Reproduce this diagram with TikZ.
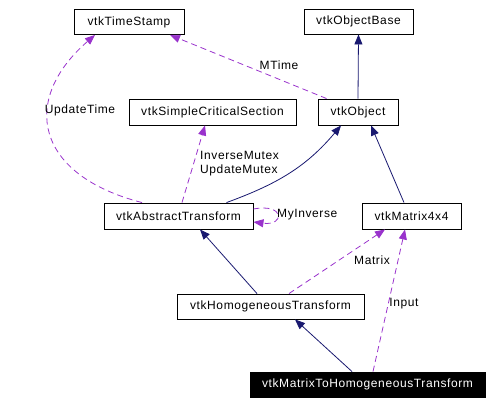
\documentclass[tikz,border=0pt]{standalone}
\usepackage{fontspec}
\newfontfamily\dfont{Liberation Sans}[LetterSpace=5]
\usetikzlibrary{arrows.meta,calc}
\definecolor{inhcol}{RGB}{25,25,112}
\definecolor{usecol}{RGB}{153,50,204}
\begin{document}
\begin{tikzpicture}[x=1bp,y=-1bp,
  font=\dfont\fontsize{12bp}{14bp}\selectfont,
  cls/.style={draw=black,line width=0.9bp,inner sep=0pt,minimum height=25bp,align=center},
  inh/.style={draw=inhcol,line width=0.8bp,-{Triangle[length=10bp,width=8bp]},inhcol},
  use/.style={draw=usecol,line width=0.8bp,dash pattern=on 6bp off 4bp,-{Triangle[length=10bp,width=8bp]},usecol},
  lbl/.style={inner sep=0pt,text=black}]
\useasboundingbox (0,0) rectangle (494,404);
\node[cls,minimum width=110bp] (ts) at (129,22) {vtkTimeStamp};
\node[cls,minimum width=109bp] (ob) at (358.5,21.5) {vtkObjectBase};
\node[cls,minimum width=167bp,minimum height=26bp] (scs) at (212.5,112) {vtkSimpleCriticalSection};
\node[cls,minimum width=80bp,minimum height=26bp] (obj) at (358,112) {vtkObject};
\node[cls,minimum width=149bp,minimum height=26bp] (abs) at (178.5,216) {vtkAbstractTransform};
\node[cls,minimum width=99bp,minimum height=26bp] (m4) at (411.5,216) {vtkMatrix4x4};
\node[cls,minimum width=187bp] (ht) at (270.5,306.5) {vtkHomogeneousTransform};
\node[cls,fill=black,text=white,minimum width=235bp] (mht) at (367.5,384.5) {vtkMatrixToHomogeneousTransform};
% inheritance
\draw[inh] (obj.north) -- (ob.south);
\draw[inh] ($(abs.north)+(48,0)$) to[out=20,in=-130] ($(obj.south)+(-17,0)$);
\draw[inh] ($(m4.north)+(-7.5,0)$) -- ($(obj.south)+(13,0)$);
\draw[inh] ($(ht.north)+(-13.5,0)$) -- ($(abs.south)+(21.5,0)$);
\draw[inh] ($(mht.north)+(-15.5,0)$) -- ($(ht.south)+(24.5,0)$);
% usage
\draw[use] ($(obj.north west)+(9,0)$) -- ($(ts.south)+(41,0)$);
\node[lbl] (lmt) at (279,65) {MTime};
\draw[use] ($(abs.north)+(-36.5,0)$) .. controls (35,175) and (20,100) .. ($(ts.south)+(-34,0)$);
\node[lbl] (lut) at (80,110) {UpdateTime};
\draw[use] ($(abs.north)+(3.5,0)$) -- ($(scs.south)+(-7.5,0)$);
\node[lbl,anchor=west,align=left] (lim) at (200,163.5) {InverseMutex\\UpdateMutex};
\draw[use] ($(abs.east)+(0,-7)$) .. controls (285,203) and (285,226) .. ($(abs.east)+(0,6)$);
\node[lbl,anchor=west] (lmi) at (277,215) {MyInverse};
\draw[use] ($(ht.north)+(18.5,0)$) -- ($(m4.south)+(-26.5,0)$);
\node[lbl] (lmx) at (372,260) {Matrix};
\draw[use] ($(mht.north)+(5.5,0)$) -- ($(m4.south)+(-6.5,0)$);
\node[lbl] (lin) at (404,304) {Input};
\end{tikzpicture}
\end{document}
